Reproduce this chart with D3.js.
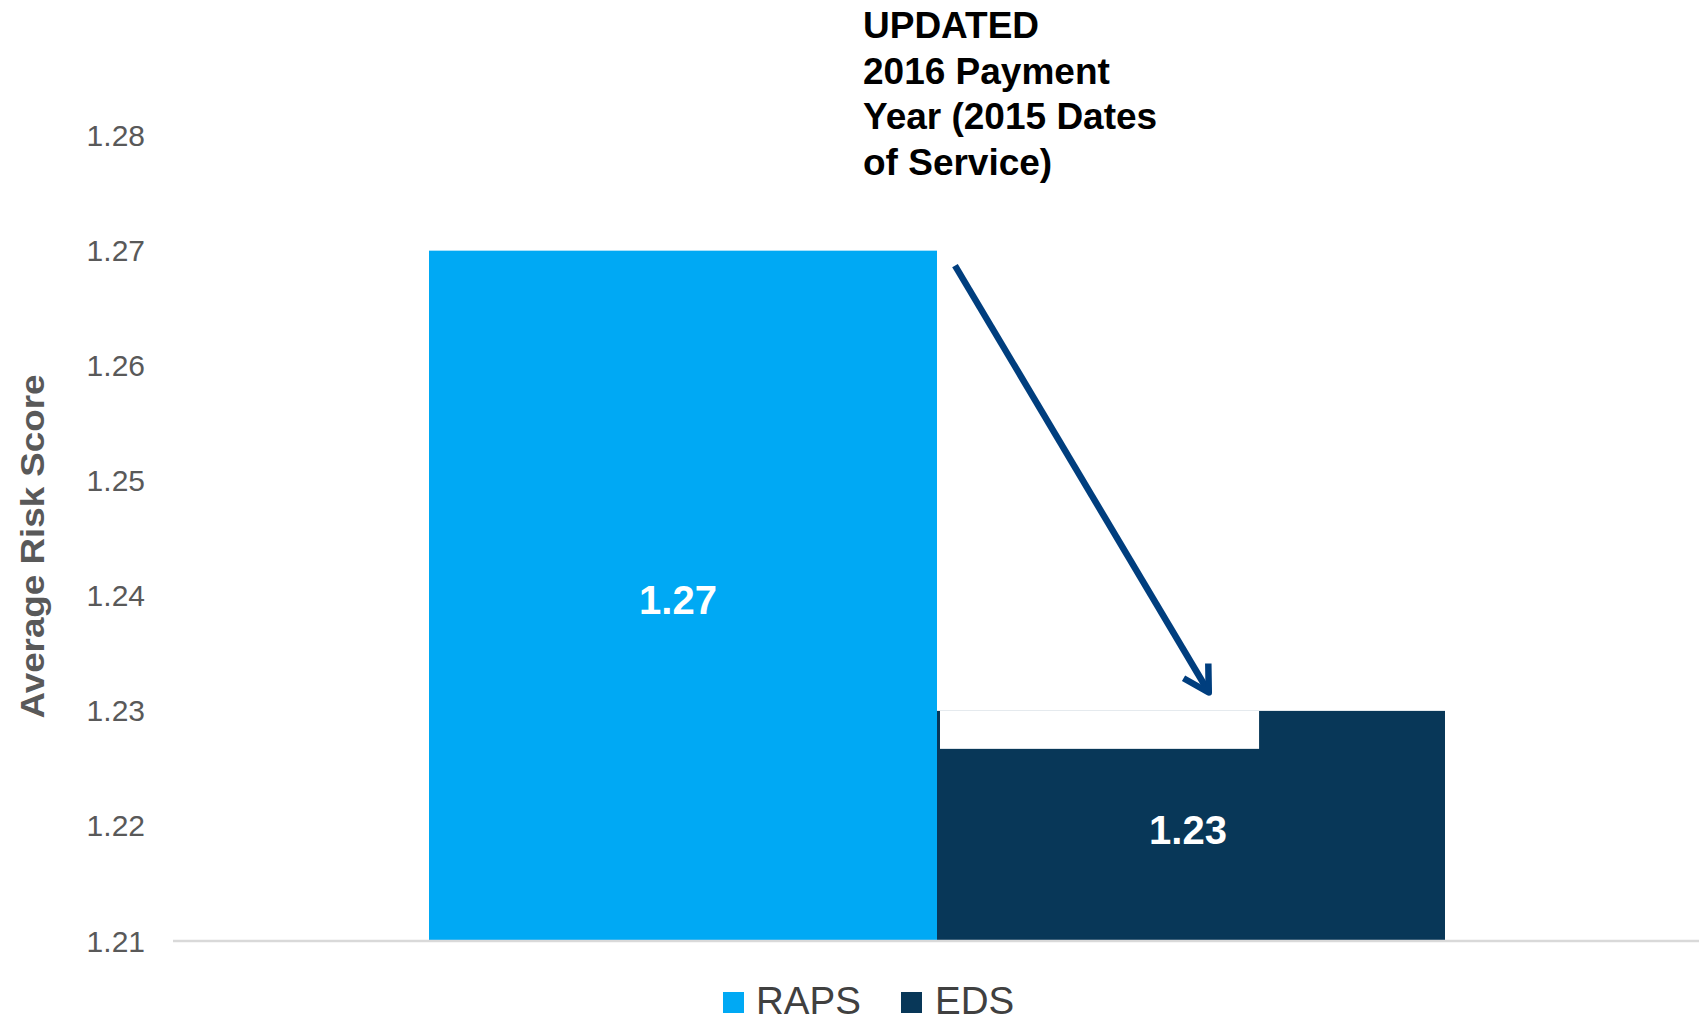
<!DOCTYPE html>
<html><head><meta charset="utf-8">
<script src="https://cdn.jsdelivr.net/npm/d3@7"></script>
<style>html,body{margin:0;padding:0;background:#fff;overflow:hidden}</style>
</head><body><svg id="c" width="1701" height="1022"></svg>
<script>
const categories = ["RAPS", "EDS"];
const values = [1.27, 1.23];
const valueLabels = ["1.27", "1.23"];
const colors = ["#00A9F4", "#083758"];
const yTicks = [1.21, 1.22, 1.23, 1.24, 1.25, 1.26, 1.27, 1.28];
const yTickLabels = ["1.21", "1.22", "1.23", "1.24", "1.25", "1.26", "1.27", "1.28"];
const titleLines = ["UPDATED", "2016 Payment", "Year (2015 Dates", "of Service)"];
const yAxisTitle = "Average Risk Score";
const maskValue = 1.2267;      // bottom of white overlay on EDS bar
const arrowFrom = 1.2687;      // arrow start value
const arrowTo = 1.2316;        // arrow tip value

const svg = d3.select("#c");
const font = "'Liberation Sans', Arial, sans-serif";
const x = d3.scaleBand().domain(categories).range([175, 1699]).paddingInner(0).paddingOuter(0.5);
const y = d3.scaleLinear().domain([1.21, 1.28]).range([941, 135.6]);

// bars
svg.selectAll("rect.bar").data(categories).join("rect")
  .attr("x", d => x(d)).attr("width", x.bandwidth())
  .attr("y", (d,i) => y(values[i])).attr("height", (d,i) => y(1.21) - y(values[i]))
  .attr("fill", (d,i) => colors[i]);

// white overlay on EDS bar
const eX = x("EDS");
svg.append("rect").attr("x", eX + 3).attr("width", x.bandwidth() * 0.634 - 3)
  .attr("y", y(values[1])).attr("height", y(maskValue) - y(values[1])).attr("fill", "#fff");

// axis baseline
svg.append("line").attr("x1", 173).attr("x2", 1699).attr("y1", y(1.21)).attr("y2", y(1.21))
  .attr("stroke", "#D9D9D9").attr("stroke-width", 2.5);

// y tick labels
svg.selectAll("text.yt").data(yTicks).join("text")
  .attr("x", 145).attr("y", d => y(d)).attr("dy", "0.35em")
  .attr("text-anchor", "end").attr("font-family", font).attr("font-size", 30).attr("fill", "#595959")
  .text((d,i) => yTickLabels[i]);

// y axis title
svg.append("text").attr("transform", `translate(44,${(375+718)/2}) rotate(-90)`)
  .attr("text-anchor", "middle").attr("font-family", font).attr("font-weight", "bold")
  .attr("font-size", 33).attr("fill", "#595959")
  .attr("textLength", 344).attr("lengthAdjust", "spacingAndGlyphs").text(yAxisTitle);

// value labels
const labelShift = [-5, -3];
svg.selectAll("text.vl").data(categories).join("text")
  .attr("x", (d,i) => x(d) + x.bandwidth() / 2 + labelShift[i])
  .attr("y", (d,i) => (y(values[i]) + y(1.21)) / 2 + 4).attr("dy", "0.35em")
  .attr("text-anchor", "middle").attr("font-family", font).attr("font-weight", "bold")
  .attr("font-size", 40).attr("fill", "#fff").text((d,i) => valueLabels[i]);

// title annotation
svg.selectAll("text.tt").data(titleLines).join("text")
  .attr("x", 863).attr("y", (d,i) => 38 + i * 45.5)
  .attr("font-family", font).attr("font-weight", "bold").attr("font-size", 37).attr("fill", "#000")
  .text(d => d);

// arrow
const ax1 = x("RAPS") + x.bandwidth() + 18, ay1 = y(arrowFrom);
const ax2 = x("EDS") + x.bandwidth() * 0.535, ay2 = y(arrowTo);
const ac = "#003E7E";
svg.append("line").attr("x1", ax1).attr("y1", ay1).attr("x2", ax2 - 1).attr("y2", ay2 - 2)
  .attr("stroke", ac).attr("stroke-width", 6.5);
const ang = Math.atan2(ay2 - ay1, ax2 - ax1);
const hl = 29, spread = 0.52;
const p = (a) => [ax2 - hl * Math.cos(ang + a), ay2 - hl * Math.sin(ang + a)];
const h1 = p(spread), h2 = p(-spread);
svg.append("path").attr("d", `M${h1[0]},${h1[1]} L${ax2},${ay2} L${h2[0]},${h2[1]}`)
  .attr("fill", "none").attr("stroke", ac).attr("stroke-width", 6.5)
  .attr("stroke-linejoin", "round").attr("stroke-linecap", "butt");

// legend
const leg = [{k: "RAPS", sx: 723, tx: 756}, {k: "EDS", sx: 901, tx: 935}];
leg.forEach((l, i) => {
  svg.append("rect").attr("x", l.sx).attr("y", 992).attr("width", 21).attr("height", 21).attr("fill", colors[i]);
  svg.append("text").attr("x", l.tx).attr("y", 1014).attr("font-family", font).attr("font-size", 38.5)
    .attr("fill", "#404040").text(l.k);
});
</script></body></html>
